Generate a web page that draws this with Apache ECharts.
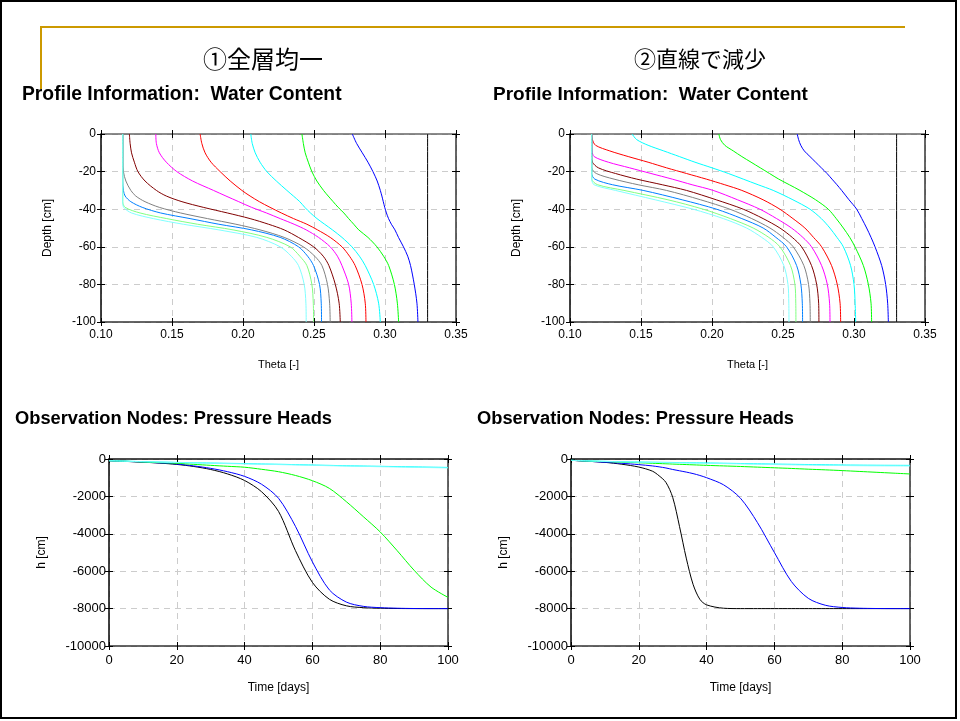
<!DOCTYPE html>
<html>
<head>
<meta charset="utf-8">
<script src="https://cdn.jsdelivr.net/npm/echarts@6/dist/echarts.min.js"></script>
<style>
  html, body { margin: 0; padding: 0; background: #fff; }
  #chart { width: 960px; height: 721px; }
</style>
</head>
<body>
<div id="chart"></div>
<script>
// ---- 図のデータ ----
const headings = ["①全層均一", "②直線で減少"];

// 左上：水分プロファイル（全層均一）
const depthL = [0, -5, -10, -15, -20, -25, -30, -33, -36, -39, -42, -45, -48, -51, -55, -60, -65, -70, -80, -90, -100];
const thetaL = [
  [0.277, 0.280, 0.284, 0.288, 0.2915, 0.2945, 0.2967, 0.2978, 0.2988, 0.2998, 0.301, 0.3025, 0.3045, 0.307, 0.3095, 0.313, 0.316, 0.318, 0.3206, 0.3225, 0.3232],
  [0.2415, 0.2425, 0.2438, 0.246, 0.2485, 0.252, 0.2567, 0.260, 0.2635, 0.267, 0.271, 0.2744, 0.278, 0.2815, 0.288, 0.2943, 0.299, 0.3026, 0.3066, 0.3087, 0.3096],
  [0.2055, 0.2065, 0.2086, 0.212, 0.2168, 0.2235, 0.2309, 0.2355, 0.240, 0.2435, 0.2475, 0.2521, 0.2575, 0.263, 0.2697, 0.2767, 0.282, 0.2861, 0.292, 0.2955, 0.2967],
  [0.1698, 0.171, 0.1733, 0.1775, 0.1839, 0.191, 0.1992, 0.205, 0.2115, 0.219, 0.227, 0.2356, 0.245, 0.2525, 0.2614, 0.2697, 0.275, 0.279, 0.2838, 0.2861, 0.2866],
  [0.1386, 0.139, 0.1411, 0.146, 0.1534, 0.1645, 0.1792, 0.188, 0.197, 0.206, 0.2165, 0.2262, 0.236, 0.2445, 0.2532, 0.2614, 0.2665, 0.2697, 0.2744, 0.2762, 0.2767],
  [0.120, 0.1205, 0.1215, 0.1235, 0.126, 0.131, 0.139, 0.146, 0.157, 0.172, 0.189, 0.205, 0.218, 0.229, 0.239, 0.2497, 0.2565, 0.2605, 0.265, 0.2677, 0.2685],
  [0.1155, 0.1155, 0.1155, 0.1155, 0.1158, 0.1175, 0.121, 0.1245, 0.131, 0.141, 0.156, 0.175, 0.195, 0.212, 0.229, 0.2425, 0.2505, 0.2556, 0.2595, 0.261, 0.2614],
  [0.1153, 0.1153, 0.1153, 0.1153, 0.1153, 0.1153, 0.1158, 0.117, 0.121, 0.129, 0.142, 0.1627, 0.183, 0.206, 0.2262, 0.2391, 0.2455, 0.2497, 0.2539, 0.2551, 0.2553],
  [0.1153, 0.1153, 0.1153, 0.1153, 0.1153, 0.1153, 0.1153, 0.1153, 0.1153, 0.117, 0.1275, 0.1463, 0.168, 0.193, 0.2168, 0.2332, 0.240, 0.245, 0.2485, 0.2495, 0.2497],
  [0.1153, 0.1153, 0.1153, 0.1153, 0.1153, 0.1153, 0.1153, 0.1153, 0.1153, 0.116, 0.1215, 0.1369, 0.158, 0.183, 0.2097, 0.2262, 0.234, 0.2391, 0.2431, 0.2443, 0.2445]
];

// 右上：水分プロファイル（直線で減少）
const depthR = [0, -3, -6, -9, -12, -15, -18, -21, -24, -27, -30, -35, -40, -45, -50, -55, -60, -70, -80, -90, -100];
const thetaR = [
  [0.260, 0.261, 0.2625, 0.265, 0.269, 0.273, 0.277, 0.281, 0.2845, 0.288, 0.2913, 0.2965, 0.3019, 0.3055, 0.3089, 0.312, 0.3148, 0.3195, 0.3223, 0.3237, 0.3242],
  [0.2048, 0.206, 0.209, 0.215, 0.221, 0.2275, 0.234, 0.2405, 0.247, 0.2545, 0.2619, 0.273, 0.2819, 0.2875, 0.2925, 0.297, 0.3007, 0.3066, 0.3101, 0.312, 0.3124],
  [0.1437, 0.147, 0.155, 0.166, 0.177, 0.188, 0.200, 0.2115, 0.222, 0.2325, 0.2431, 0.257, 0.269, 0.277, 0.283, 0.288, 0.2925, 0.2976, 0.300, 0.3008, 0.3012],
  [0.1153, 0.1158, 0.118, 0.128, 0.141, 0.155, 0.168, 0.182, 0.196, 0.209, 0.221, 0.236, 0.2478, 0.257, 0.2654, 0.2715, 0.2772, 0.2842, 0.2882, 0.2902, 0.2906],
  [0.1153, 0.1153, 0.1153, 0.1155, 0.117, 0.127, 0.142, 0.157, 0.172, 0.186, 0.2008, 0.218, 0.2337, 0.2455, 0.256, 0.264, 0.2701, 0.2772, 0.2812, 0.2828, 0.2831],
  [0.1153, 0.1153, 0.1153, 0.1153, 0.1153, 0.1158, 0.120, 0.132, 0.147, 0.165, 0.182, 0.203, 0.222, 0.236, 0.2478, 0.2565, 0.2631, 0.2701, 0.2737, 0.2751, 0.2753],
  [0.1153, 0.1153, 0.1153, 0.1153, 0.1153, 0.1153, 0.1153, 0.1185, 0.131, 0.148, 0.1679, 0.192, 0.2126, 0.228, 0.2408, 0.250, 0.2572, 0.2647, 0.268, 0.269, 0.2692],
  [0.1153, 0.1153, 0.1153, 0.1153, 0.1153, 0.1153, 0.1153, 0.1153, 0.1175, 0.130, 0.1515, 0.179, 0.2032, 0.221, 0.236, 0.245, 0.2525, 0.2596, 0.2626, 0.2636, 0.2638],
  [0.1153, 0.1153, 0.1153, 0.1153, 0.1153, 0.1153, 0.1153, 0.1153, 0.1153, 0.1195, 0.138, 0.169, 0.1938, 0.213, 0.229, 0.240, 0.2478, 0.2553, 0.2584, 0.259, 0.2591],
  [0.1153, 0.1153, 0.1153, 0.1153, 0.1153, 0.1153, 0.1153, 0.1153, 0.1153, 0.117, 0.132, 0.160, 0.1867, 0.208, 0.2243, 0.235, 0.2431, 0.2506, 0.2535, 0.2541, 0.2542]
];
const thetaInit = 0.33;

// 下段：観測点の圧力水頭
const timeL = [0, 5, 10, 15, 20, 25, 30, 35, 40, 45, 50, 55, 60, 65, 70, 75, 80, 85, 90, 95, 100];
const headL = [
  [-90, -130, -170, -220, -290, -400, -560, -800, -1150, -1750, -2800, -4900, -6600, -7500, -7850, -7950, -7980, -7995, -8000, -8000, -8000],
  [-90, -125, -165, -210, -270, -370, -500, -680, -930, -1350, -2100, -3600, -5500, -7000, -7650, -7880, -7950, -7980, -7995, -8000, -8000],
  [-90, -120, -160, -195, -230, -285, -340, -390, -440, -550, -680, -880, -1160, -1570, -2280, -3080, -3900, -4900, -5950, -6850, -7400],
  [-90, -115, -140, -160, -180, -200, -215, -230, -245, -265, -280, -300, -320, -340, -360, -375, -390, -405, -420, -435, -450],
  [-90, -118, -145, -168, -190, -210, -228, -245, -262, -280, -298, -318, -338, -358, -378, -395, -412, -428, -445, -460, -475]
];
const timeR = [0, 5, 10, 15, 20, 24, 26, 28, 30, 32, 34, 36, 38, 40, 45, 50, 55, 60, 65, 70, 75, 80, 85, 90, 95, 100];
const headR = [
  [-70, -120, -180, -280, -430, -650, -900, -1250, -2050, -3600, -5300, -6700, -7500, -7800, -7980, -8000, -8000, -8000, -8000, -8000, -8000, -8000, -8000, -8000, -8000, -8000],
  [-70, -120, -175, -230, -300, -370, -420, -480, -560, -630, -700, -780, -880, -1000, -1380, -2100, -3400, -5000, -6550, -7450, -7820, -7940, -7980, -7995, -8000, -8000],
  [-70, -110, -140, -170, -200, -228, -242, -256, -270, -284, -298, -312, -326, -340, -370, -400, -435, -470, -505, -545, -580, -620, -665, -710, -755, -800],
  [-70, -100, -125, -145, -160, -170, -175, -180, -185, -190, -195, -200, -205, -210, -225, -240, -255, -270, -282, -295, -307, -320, -327, -333, -337, -340],
  [-70, -102, -130, -152, -170, -182, -188, -194, -200, -206, -212, -218, -224, -230, -245, -262, -278, -295, -310, -325, -338, -350, -358, -364, -368, -372]
];

// ---- 描画設定 ----
const profileColors = ["#0000ff", "#00ff00", "#00ffff", "#ff0000", "#ff00ff", "#800000", "#808080", "#0080ff", "#80ff80", "#80ffff"];
const nodeColors = ["#000000", "#0000ff", "#00ff00", "#00ffff", "#80ffff"];
const FONT = "'Liberation Sans', Arial, sans-serif";

const grids = [
  { left: 101, top: 134, width: 355, height: 188 },
  { left: 570, top: 134, width: 355, height: 188 },
  { left: 109, top: 459, width: 339, height: 187 },
  { left: 571, top: 459, width: 339, height: 187 }
];

// 目盛りが軸線をまたぐように、各辺に内向き・外向きの軸を重ねる
function sideAxes(gi, pos1, pos2, o) {
  const make = (pos, inside, main, line, color) => ({
    gridIndex: gi,
    type: "value",
    position: pos,
    min: o.min,
    max: o.max,
    interval: o.interval,
    axisLine: { show: line, onZero: false, lineStyle: { color: color, width: 1.5 } },
    axisTick: { show: true, inside: inside, length: 4, lineStyle: { color: "#000", width: 1 } },
    axisLabel: main
      ? { show: true, margin: o.labelMargin, fontFamily: FONT, fontSize: o.labelSize, color: "#000", formatter: o.fmt }
      : { show: false },
    splitLine: main
      ? { show: true, lineStyle: { color: "#cccccc", type: [6, 5], width: 1 } }
      : { show: false },
    name: main ? o.name : "",
    nameLocation: "middle",
    nameGap: o.nameGap,
    nameTextStyle: { fontFamily: FONT, fontSize: o.nameSize, color: "#000" },
    silent: true
  });
  return [
    make(pos1, false, true, true, o.color1),
    make(pos1, true, false, false, o.color1),
    make(pos2, false, false, true, o.color2),
    make(pos2, true, false, false, o.color2)
  ];
}

const xAxes = [], yAxes = [];
[0, 1].forEach(gi => {
  xAxes.push(...sideAxes(gi, "bottom", "top", {
    min: 0.10, max: 0.35, interval: 0.05, fmt: v => v.toFixed(2),
    name: "Theta [-]", nameGap: 37, labelSize: 12, nameSize: 11, labelMargin: 7,
    color1: "#333", color2: "#666"
  }));
  yAxes.push(...sideAxes(gi, "left", "right", {
    min: -100, max: 0, interval: 20, fmt: v => String(v),
    name: "Depth [cm]", nameGap: 47, labelSize: 12, nameSize: 12, labelMargin: 5,
    color1: "#000", color2: "#333"
  }));
});
[2, 3].forEach(gi => {
  xAxes.push(...sideAxes(gi, "bottom", "top", {
    min: 0, max: 100, interval: 20, fmt: v => String(v),
    name: "Time [days]", nameGap: 36, labelSize: 13, nameSize: 12, labelMargin: 8,
    color1: "#333", color2: "#111"
  }));
  yAxes.push(...sideAxes(gi, "left", "right", {
    min: -10000, max: 0, interval: 2000, fmt: v => String(v),
    name: "h [cm]", nameGap: 61, labelSize: 13, nameSize: 12, labelMargin: 3,
    color1: "#000", color2: "#333"
  }));
});

function lineSeries(gi, data, color) {
  return {
    type: "line",
    xAxisIndex: gi * 4,
    yAxisIndex: gi * 4,
    data: data,
    showSymbol: false,
    smooth: 0.3,
    lineStyle: { color: color, width: 1 },
    itemStyle: { color: color },
    silent: true,
    animation: false
  };
}

const series = [];
[[depthL, thetaL], [depthR, thetaR]].forEach(([depths, thetas], gi) => {
  thetas.forEach((row, i) => {
    series.push(lineSeries(gi, row.map((t, k) => [t, depths[k]]), profileColors[i]));
  });
  series.push(lineSeries(gi, [[thetaInit, 0], [thetaInit, -100]], "#000000"));
});
[[timeL, headL], [timeR, headR]].forEach(([times, heads], k) => {
  const gi = k + 2;
  heads.forEach((row, i) => {
    series.push(lineSeries(gi, row.map((h, j) => [times[j], h]), nodeColors[i]));
  });
});

const textEl = (x, y, text, font, align) => ({
  type: "text", x: x, y: y, silent: true,
  style: { text: text, font: font, fill: "#000", align: align || "left", verticalAlign: "middle" }
});

const graphic = [
  { type: "rect", shape: { x: 1, y: 1, width: 955, height: 717 }, style: { fill: "none", stroke: "#000", lineWidth: 2 }, silent: true },
  { type: "polyline", shape: { points: [[41, 89], [41, 27], [905, 27]] }, style: { fill: "none", stroke: "#cc9900", lineWidth: 2 }, silent: true },
  textEl(263, 59, headings[0], "24px 'Noto Sans CJK JP', sans-serif", "center"),
  textEl(700, 59, headings[1], "22px 'Noto Sans CJK JP', sans-serif", "center"),
  textEl(22, 95, "Profile Information:  Water Content", "bold 19.3px " + FONT),
  textEl(493, 95, "Profile Information:  Water Content", "bold 19px " + FONT),
  textEl(15, 419, "Observation Nodes: Pressure Heads", "bold 18.3px " + FONT),
  textEl(477, 419, "Observation Nodes: Pressure Heads", "bold 18.3px " + FONT)
];

const chart = echarts.init(document.getElementById("chart"), null, { renderer: "canvas" });
chart.setOption({
  backgroundColor: "#ffffff",
  animation: false,
  grid: grids,
  xAxis: xAxes,
  yAxis: yAxes,
  series: series,
  graphic: graphic
});
</script>
</body>
</html>
